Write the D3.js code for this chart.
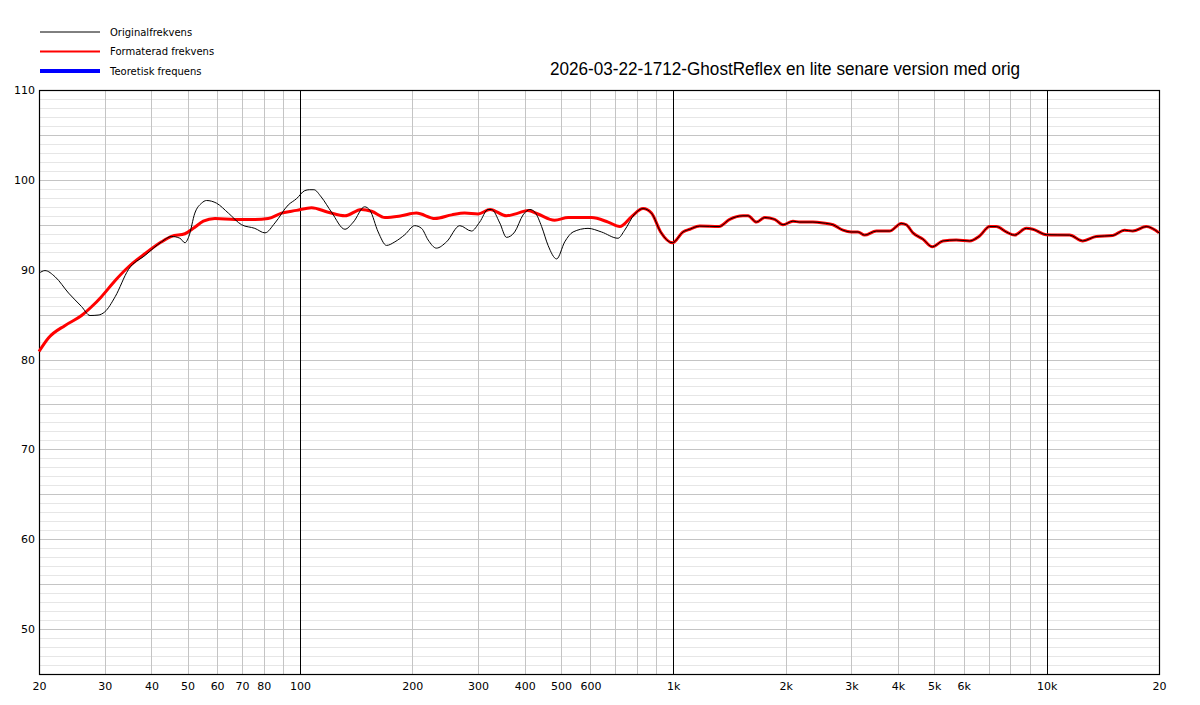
<!DOCTYPE html>
<html>
<head>
<meta charset="utf-8">
<script src="https://cdn.jsdelivr.net/npm/d3@7"></script>
<style>
  body { margin: 0; background: #fff; }
  svg { display: block; }
</style>
</head>
<body>
<div id="chart"></div>
<script>
// measured curves (Hz, dB)
var origFreq = [20, 20.75, 22.1, 24.0, 26.0, 27.4, 28.8, 30.0, 32.0, 34.7, 38.5, 42.6, 45.3, 47.7, 49.2, 50.4, 52.3, 54.5, 56.2, 59.8, 64.3, 69.8, 75.7, 80.6, 85.7, 93.0, 97.9, 103, 106, 109, 114, 121.5, 132, 139, 149, 154, 162, 170.6, 179.6, 191, 203, 211.7, 220.5, 232, 247, 268, 288, 303, 319, 326, 343, 357.5, 376, 396, 413, 426, 444, 462, 487, 512, 539, 591, 642, 711, 741, 788, 830];
var origDb   = [89.6, 89.9, 89.2, 87.4, 85.9, 84.9, 84.95, 85.3, 87.0, 90.0, 91.6, 93.1, 93.7, 93.5, 93.0, 93.7, 96.3, 97.4, 97.7, 97.4, 96.3, 95.0, 94.6, 94.1, 95.2, 97.2, 97.9, 98.8, 98.9, 98.9, 98.1, 96.4, 94.5, 95.3, 97.0, 96.6, 94.2, 92.7, 93.1, 93.9, 94.9, 94.6, 93.3, 92.4, 93.1, 94.9, 94.3, 95.3, 96.7, 96.7, 95.2, 93.6, 94.2, 96.1, 96.7, 96.4, 94.8, 92.7, 91.2, 93.1, 94.2, 94.6, 94.2, 93.5, 94.4, 96.2, 96.8];

var formFreq = [20, 21.2, 23.5, 26.0, 27.7, 29.4, 32.0, 34.7, 38.5, 42.6, 45.3, 49.2, 51.8, 55.1, 59.2, 67, 75.7, 82.2, 89.3, 97.9, 107.4, 119, 132, 146, 155.5, 169, 187, 205, 230, 255, 276, 300, 323, 357.5, 384, 408, 434, 481, 523, 604, 669, 719, 773, 830];
var formDb   = [80.9, 82.4, 83.8, 84.9, 85.9, 87.0, 88.8, 90.3, 91.8, 93.1, 93.7, 94.0, 94.6, 95.4, 95.7, 95.6, 95.6, 95.7, 96.3, 96.6, 96.9, 96.4, 96.0, 96.7, 96.5, 95.8, 96.0, 96.3, 95.7, 96.1, 96.3, 96.2, 96.7, 96.0, 96.3, 96.6, 96.2, 95.5, 95.8, 95.8, 95.3, 94.8, 95.9, 96.8];

// above ~850 Hz both curves are the same
var hiFreq = [874, 925, 995, 1062, 1107, 1177, 1326, 1416, 1537, 1586, 1670, 1757, 1868, 1967, 2092, 2180, 2366, 2518, 2678, 2848, 2998, 3124, 3254, 3498, 3797, 4082, 4210, 4384, 4662, 4942, 5276, 5728, 6220, 6614, 7035, 7332, 7798, 8208, 8820, 9188, 9978, 11520, 12500, 13580, 15040, 16170, 17010, 18490, 20000];
var hiDb   = [96.3, 94.2, 93.0, 94.2, 94.5, 94.85, 94.8, 95.6, 96.0, 96.0, 95.3, 95.8, 95.6, 95.0, 95.4, 95.3, 95.3, 95.2, 95.0, 94.4, 94.2, 94.2, 93.85, 94.3, 94.3, 95.15, 95.0, 94.1, 93.4, 92.55, 93.2, 93.3, 93.2, 93.75, 94.8, 94.8, 94.2, 93.85, 94.6, 94.5, 93.9, 93.85, 93.2, 93.7, 93.8, 94.4, 94.3, 94.8, 94.1];

var xTickVals   = [20, 30, 40, 50, 60, 70, 80, 100, 200, 300, 400, 500, 600, 1000, 2000, 3000, 4000, 5000, 6000, 10000, 20000];
var xTickLabels = ["20", "30", "40", "50", "60", "70", "80", "100", "200", "300", "400", "500", "600", "1k", "2k", "3k", "4k", "5k", "6k", "10k", "20"];
var yTickVals   = [50, 60, 70, 80, 90, 100, 110];

var seriesNames = ["Originalfrekvens", "Formaterad frekvens", "Teoretisk frequens"];
var title = "2026-03-22-1712-GhostReflex en lite senare version med orig";

var width = 1200, height = 705;
var pLeft = 39, pRight = 1159, pTop = 90, pBottom = 674;

var svg = d3.select("#chart").append("svg")
    .attr("width", width)
    .attr("height", height)
    .style("font-family", "DejaVu Sans, sans-serif");

var x = d3.scaleLog().domain([20, 20000]).range([pLeft, pRight]);
var y = d3.scaleLinear().domain([45, 110]).range([pBottom, pTop]);

// horizontal grid, 1 dB light and 5 dB darker
var g = svg.append("g");
d3.range(46, 110).forEach(function(v) {
  g.append("line")
    .attr("x1", pLeft).attr("x2", pRight)
    .attr("y1", Math.round(y(v)) + 0.5).attr("y2", Math.round(y(v)) + 0.5)
    .attr("stroke", v % 5 == 0 ? "#c4c4c4" : "#e6e6e6")
    .attr("stroke-width", 1);
});

// vertical grid
var vgrid = [];
[10, 100, 1000, 10000].forEach(function(dec) {
  for (let m = 1; m < 10; m++) {
    let f = dec * m;
    if (f > 20 && f < 20000) vgrid.push(f);
  }
});
vgrid.forEach(function(f) {
  var decade = (f == 100 || f == 1000 || f == 10000);
  g.append("line")
    .attr("x1", Math.round(x(f)) + 0.5).attr("x2", Math.round(x(f)) + 0.5)
    .attr("y1", pTop).attr("y2", pBottom)
    .attr("stroke", decade ? "#000" : "#c4c4c4")
    .attr("stroke-width", 1);
});

// frame
svg.append("rect")
  .attr("x", pLeft + 0.5).attr("y", pTop + 0.5)
  .attr("width", pRight - pLeft).attr("height", pBottom - pTop)
  .attr("fill", "none").attr("stroke", "#000").attr("stroke-width", 1.2);

// axes
var xAxis = d3.axisBottom(x)
  .tickValues(xTickVals)
  .tickFormat(function(d, i) { return xTickLabels[i]; })
  .tickSize(0).tickPadding(8);
svg.append("g")
  .attr("transform", "translate(0," + pBottom + ")")
  .call(xAxis)
  .call(function(a) { a.select(".domain").remove(); })
  .selectAll("text")
  .attr("font-size", "11px")
  .attr("font-family", "DejaVu Sans, sans-serif")
  .attr("fill", "#000");

var yAxis = d3.axisLeft(y)
  .tickValues(yTickVals)
  .tickSize(0).tickPadding(4);
svg.append("g")
  .attr("transform", "translate(" + pLeft + ",0)")
  .call(yAxis)
  .call(function(a) { a.select(".domain").remove(); })
  .selectAll("text")
  .attr("font-size", "11px")
  .attr("font-family", "DejaVu Sans, sans-serif")
  .attr("fill", "#000");

// curves
function pts(fr, db) {
  return fr.map(function(f, i) { return [f, db[i]]; });
}
var line = d3.line()
  .x(function(d) { return x(d[0]); })
  .y(function(d) { return y(d[1]); })
  .curve(d3.curveMonotoneX);

var plot = svg.append("g");
plot.append("path")
  .datum(pts(formFreq.concat(hiFreq), formDb.concat(hiDb)))
  .attr("d", line)
  .attr("fill", "none")
  .attr("stroke", "#ff0000")
  .attr("stroke-width", 3);
plot.append("path")
  .datum(pts(origFreq.concat(hiFreq), origDb.concat(hiDb)))
  .attr("d", line)
  .attr("fill", "none")
  .attr("stroke", "#000")
  .attr("stroke-width", 1);

// legend
var legColors = ["#000", "#ff0000", "#0000ff"];
var legWidths = [1, 2, 4];
seriesNames.forEach(function(n, i) {
  var ly = 32 + i * 19.5;
  svg.append("line")
    .attr("x1", 40).attr("x2", 100)
    .attr("y1", ly).attr("y2", ly)
    .attr("stroke", legColors[i])
    .attr("stroke-width", legWidths[i]);
  svg.append("text")
    .attr("x", 110).attr("y", ly + 3.5)
    .attr("font-size", "10px")
    .attr("fill", "#000")
    .text(n);
});

// title
svg.append("text")
  .attr("x", 550).attr("y", 75)
  .attr("font-family", "Liberation Sans, sans-serif")
  .attr("font-size", "18px")
  .attr("textLength", 470)
  .attr("lengthAdjust", "spacingAndGlyphs")
  .attr("fill", "#000")
  .text(title);
</script>
</body>
</html>
